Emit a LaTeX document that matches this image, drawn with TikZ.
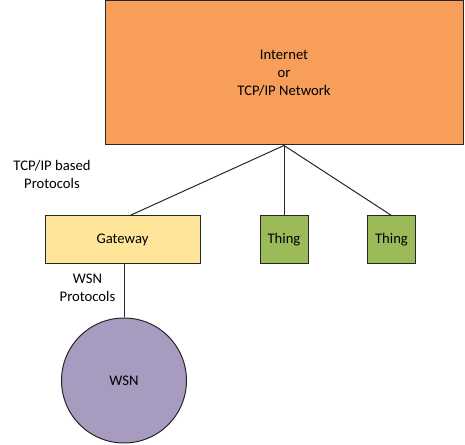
\documentclass[tikz,border=0pt]{standalone}
\usepackage{fontspec}
\setmainfont{Carlito}
\usepackage{xcolor}
\usetikzlibrary{positioning}
\definecolor{netorange}{RGB}{246,158,90}
\definecolor{gateyellow}{RGB}{255,229,153}
\definecolor{thinggreen}{RGB}{155,187,89}
\definecolor{wsnpurple}{RGB}{168,155,192}

\begin{document}
\begin{tikzpicture}[
	x=0.75pt, y=-0.75pt,
	font=\fontsize{11}{13.5}\selectfont,
	line width=0.75pt
]
\tikzset{
    mybox/.style = {rectangle, draw=black!85, align=center, inner sep=0pt},
    mylink/.style = {draw=black!85},
    mylabel/.style = {align=center, inner sep=0pt}
}
\useasboundingbox (0,0) rectangle (465,445);
\node[mybox,minimum width=268.5pt,minimum height=108pt,fill=netorange] (net) at (284,73) {Internet\\or\\TCP/IP Network};
\node[mybox,minimum width=116.25pt,minimum height=36pt,fill=gateyellow] (gateway) at (122.5,240) {Gateway};
\node[mybox,minimum width=36pt,minimum height=36pt,fill=thinggreen] (thingA) at (284,240) {Thing};
\node[mybox,minimum width=35.5pt,minimum height=36pt,fill=thinggreen] (thingB) at (391.5,240) {Thing};
\node[circle,draw=black!85,minimum size=93.75pt,inner sep=0pt,fill=wsnpurple] (wsn) at (124,380.5) {WSN};
% labels
\node[mylabel] (tcplabel) at (52,174) {TCP/IP based\\Protocols};
\node[mylabel] (wsnlabel) at (87.5,288) {WSN\\Protocols};
% links
\draw[mylink] (net.south) -- ([xshift=5.6pt]gateway.north);
\draw[mylink] (net.south) -- (thingA.north);
\draw[mylink] (net.south) -- (thingB.north);
\draw[mylink] (gateway.south -| wsn.north) -- (wsn.north);
\end{tikzpicture}
\end{document}
